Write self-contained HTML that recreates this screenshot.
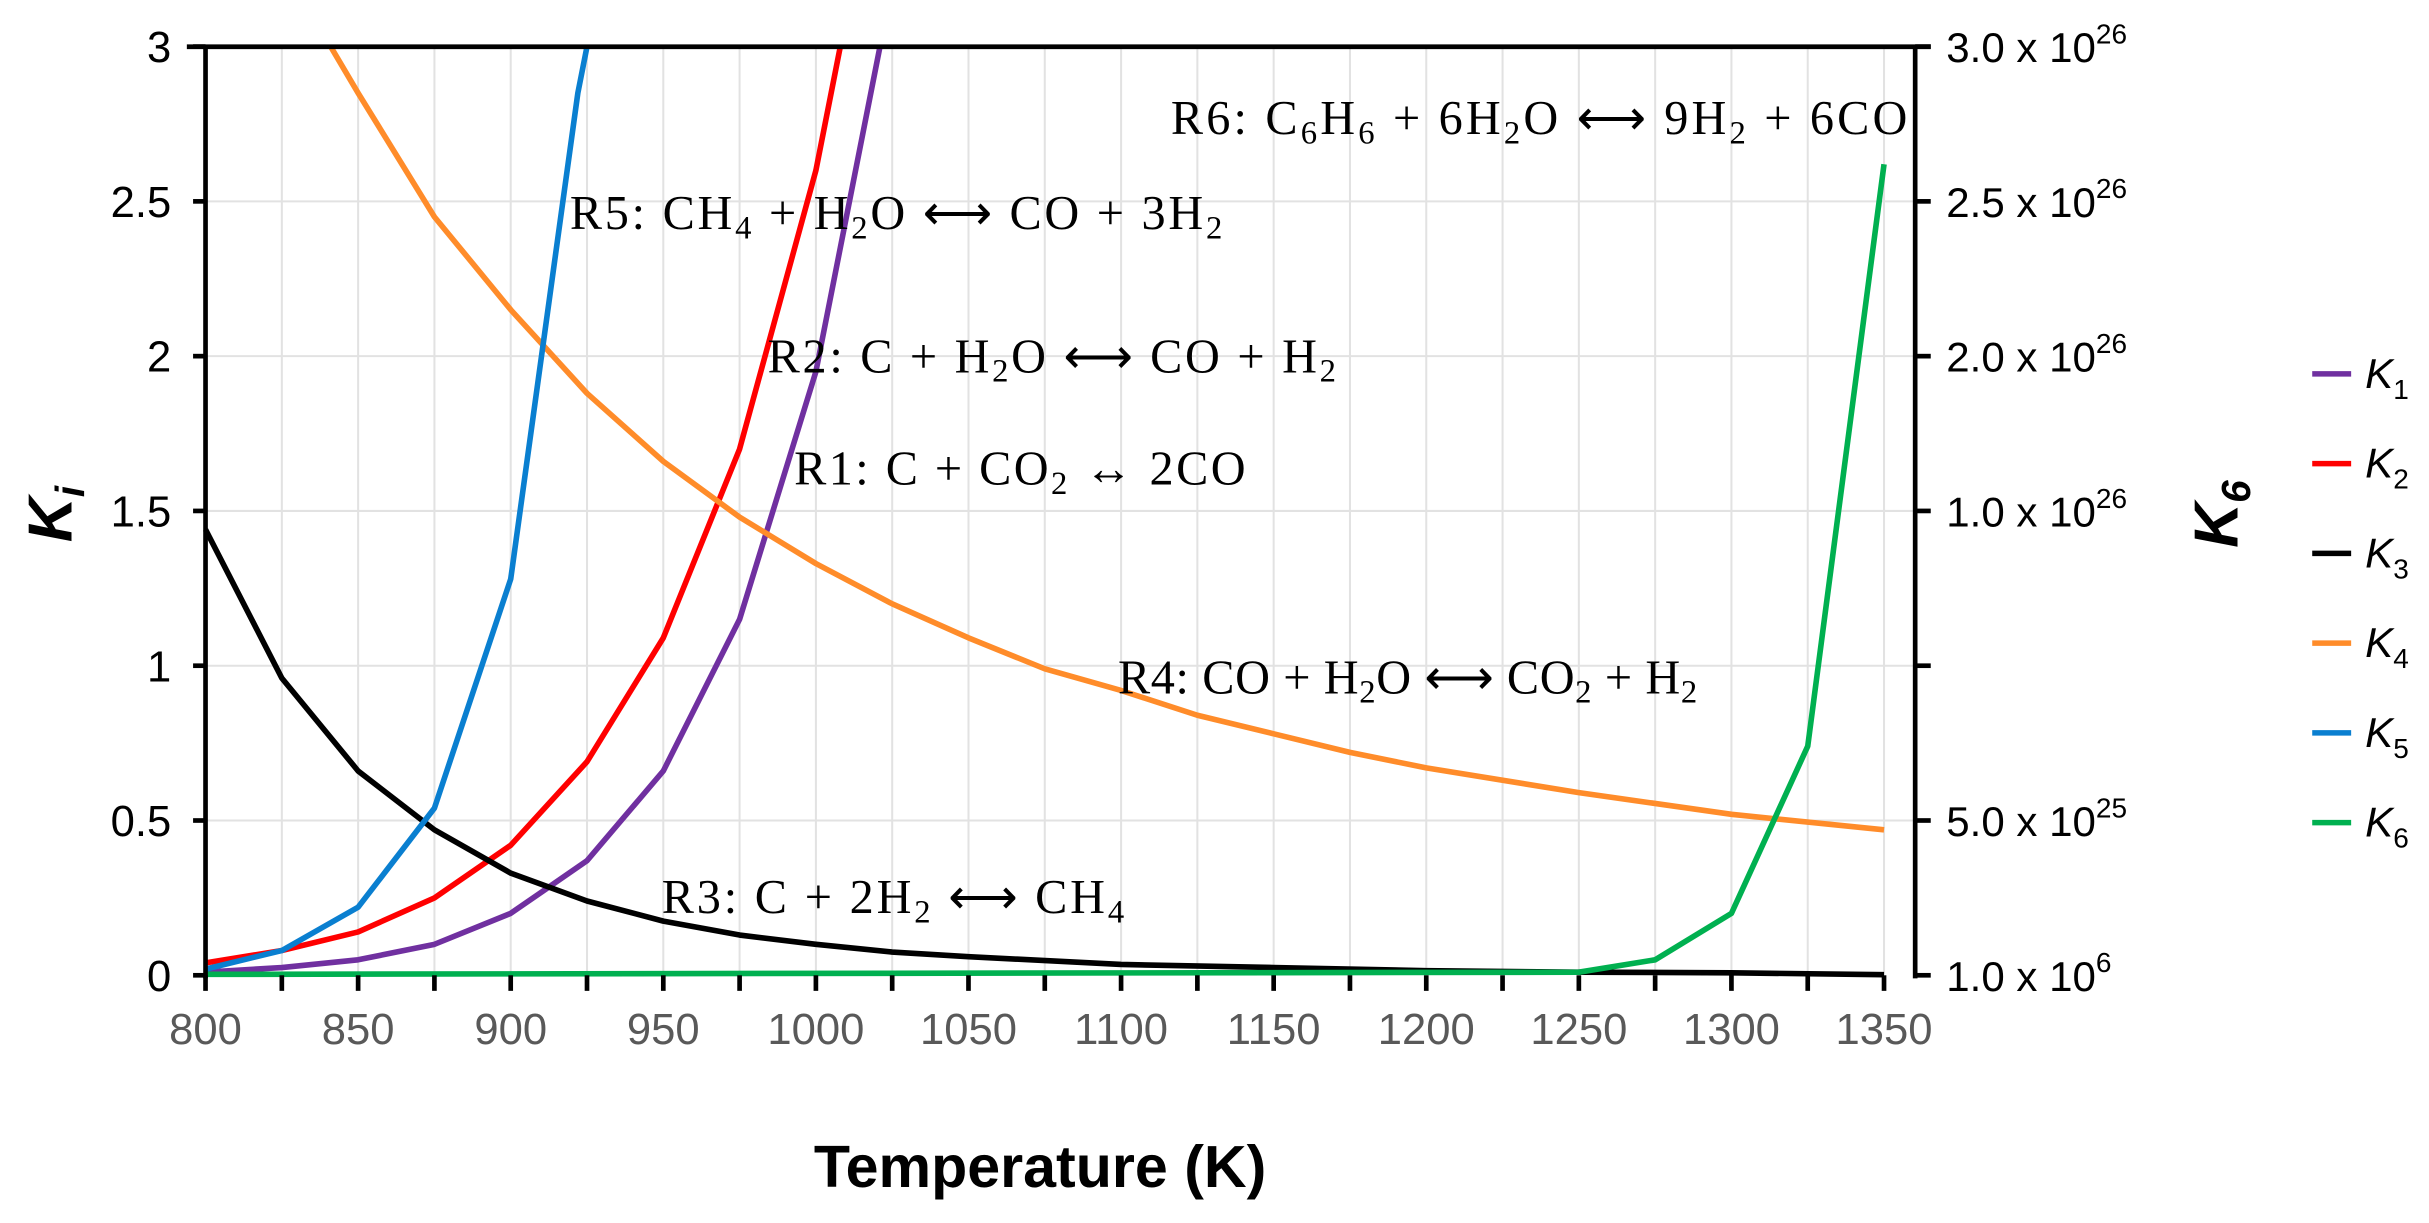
<!DOCTYPE html>
<html><head><meta charset="utf-8"><style>html,body{margin:0;padding:0;background:#fff;}svg{display:block}</style></head>
<body>
<svg id="s" width="2429" height="1223" viewBox="0 0 1560 785" preserveAspectRatio="none" xmlns="http://www.w3.org/2000/svg">
<g id="grid" stroke="#e2e2e2" stroke-width="1.3"></g>
<g id="series" fill="none" stroke-width="3.6" stroke-linejoin="round"></g>
<g id="axes" stroke="#000" stroke-width="3"></g>
<g font-family="Liberation Serif, serif" font-size="31" fill="#000">
<text x="752" y="86" textLength="473" lengthAdjust="spacing">R6: C<tspan font-size="21" dy="6">6</tspan><tspan dy="-6">H</tspan><tspan font-size="21" dy="6">6</tspan><tspan dy="-6"> + 6H</tspan><tspan font-size="21" dy="6">2</tspan><tspan dy="-6">O ⟷ 9H</tspan><tspan font-size="21" dy="6">2</tspan><tspan dy="-6"> + 6CO</tspan></text>
<text x="366" y="147" textLength="419" lengthAdjust="spacing">R5: CH<tspan font-size="21" dy="6">4</tspan><tspan dy="-6"> + H</tspan><tspan font-size="21" dy="6">2</tspan><tspan dy="-6">O ⟷ CO + 3H</tspan><tspan font-size="21" dy="6">2</tspan></text>
<text x="493" y="239" textLength="365" lengthAdjust="spacing">R2: C + H<tspan font-size="21" dy="6">2</tspan><tspan dy="-6">O ⟷ CO + H</tspan><tspan font-size="21" dy="6">2</tspan></text>
<text x="510" y="311" textLength="290" lengthAdjust="spacing">R1: C + CO<tspan font-size="21" dy="6">2</tspan><tspan dy="-6"> ↔ 2CO</tspan></text>
<text x="718" y="445" textLength="372" lengthAdjust="spacing">R4: CO + H<tspan font-size="21" dy="6">2</tspan><tspan dy="-6">O ⟷ CO</tspan><tspan font-size="21" dy="6">2</tspan><tspan dy="-6"> + H</tspan><tspan font-size="21" dy="6">2</tspan></text>
<text x="425" y="586" textLength="297" lengthAdjust="spacing">R3: C + 2H<tspan font-size="21" dy="6">2</tspan><tspan dy="-6"> ⟷ CH</tspan><tspan font-size="21" dy="6">4</tspan></text>
</g>
<g id="labels" font-family="Liberation Sans, sans-serif" font-size="28"></g>
<text x="668" y="762" text-anchor="middle" font-family="Liberation Sans, sans-serif" font-weight="bold" font-size="38">Temperature (K)</text>
<text transform="translate(46,330) rotate(-90)" text-anchor="middle" font-family="Liberation Sans, sans-serif" font-weight="bold" font-style="italic" font-size="40">K<tspan font-size="26" dy="8">i</tspan></text>
<text transform="translate(1437,330) rotate(-90)" text-anchor="middle" font-family="Liberation Sans, sans-serif" font-weight="bold" font-style="italic" font-size="40">K<tspan font-size="26" dy="8">6</tspan></text>
<g id="legend" font-family="Liberation Sans, sans-serif" font-size="27"></g>
</svg>
<script>
const NS="http://www.w3.org/2000/svg";
const X=t=>132+(t-800)*1.96, Y=v=>626-v*198.7;
function el(p,tag,a,txt){const e=document.createElementNS(NS,tag);for(const k in a)e.setAttribute(k,a[k]);if(txt!==undefined)e.innerHTML=txt;document.getElementById(p).appendChild(e);return e;}
for(let t=825;t<=1350;t+=25)el('grid','line',{x1:X(t),x2:X(t),y1:30,y2:626});
for(let v=0.5;v<=3;v+=0.5)el('grid','line',{x1:132,x2:1230,y1:Y(v),y2:Y(v)});
const S={
'#7030a0':[[800,0.01],[825,0.025],[850,0.05],[875,0.1],[900,0.2],[925,0.37],[950,0.66],[975,1.15],[1000,1.95],[1021,3]],
'#ff0000':[[800,0.04],[825,0.08],[850,0.14],[875,0.25],[900,0.42],[925,0.69],[950,1.09],[975,1.7],[1000,2.6],[1008,3]],
'#000000':[[800,1.44],[825,0.96],[850,0.66],[875,0.47],[900,0.33],[925,0.24],[950,0.175],[975,0.13],[1000,0.1],[1025,0.075],[1050,0.06],[1100,0.035],[1150,0.025],[1200,0.015],[1250,0.01],[1300,0.008],[1350,0.002]],
'#ff8c2a':[[841,3],[850,2.85],[875,2.45],[900,2.15],[925,1.88],[950,1.66],[975,1.48],[1000,1.33],[1025,1.2],[1050,1.09],[1075,0.99],[1100,0.92],[1125,0.84],[1150,0.78],[1175,0.72],[1200,0.67],[1250,0.59],[1300,0.52],[1350,0.47]],
'#0a7fd0':[[800,0.02],[825,0.08],[850,0.22],[875,0.54],[900,1.28],[922,2.85],[925,3]],
'#00b050':[[800,0.003],[1250,0.01],[1275,0.05],[1300,0.2],[1325,0.74],[1350,2.62]]};
for(const c in S)el('series','polyline',{stroke:c,points:S[c].map(p=>X(p[0])+','+Y(p[1])).join(' ')});
el('axes','line',{x1:132,x2:132,y1:30,y2:628});
el('axes','line',{x1:1230,x2:1230,y1:30,y2:628});
el('axes','line',{x1:120,x2:1240,y1:30,y2:30});
for(let t=800;t<=1350;t+=25)el('axes','line',{x1:X(t),x2:X(t),y1:626,y2:636});
for(let v=0;v<=3;v+=0.5){el('axes','line',{x1:124,x2:132,y1:Y(v),y2:Y(v)});el('axes','line',{x1:1230,x2:1240,y1:Y(v),y2:Y(v)});}
for(let t=800;t<=1350;t+=50)el('labels','text',{x:X(t),y:670,'text-anchor':'middle',fill:'#595959'},t);
['0','0.5','1','1.5','2','2.5','3'].forEach((s,i)=>el('labels','text',{x:110,y:Y(i*0.5)+10,'text-anchor':'end'},s));
const rl=[[0,'1.0 x 10','6'],[0.5,'5.0 x 10','25'],[1.5,'1.0 x 10','26'],[2,'2.0 x 10','26'],[2.5,'2.5 x 10','26'],[3,'3.0 x 10','26']];
rl.forEach(r=>el('labels','text',{x:1250,y:Y(r[0])+10,'font-size':27},r[1]+'<tspan font-size="18" dy="-12">'+r[2]+'</tspan>'));
const lc=['#7030a0','#ff0000','#000000','#ff8c2a','#0a7fd0','#00b050'];
lc.forEach((c,i)=>{const y=240+i*57.6;el('legend','line',{x1:1485,x2:1510,y1:y,y2:y,stroke:c,'stroke-width':3.5});el('legend','text',{x:1519,y:y+9,'font-style':'italic'},'K<tspan font-size="18" dy="7" font-style="normal">'+(i+1)+'</tspan>');});
</script>
</body></html>
